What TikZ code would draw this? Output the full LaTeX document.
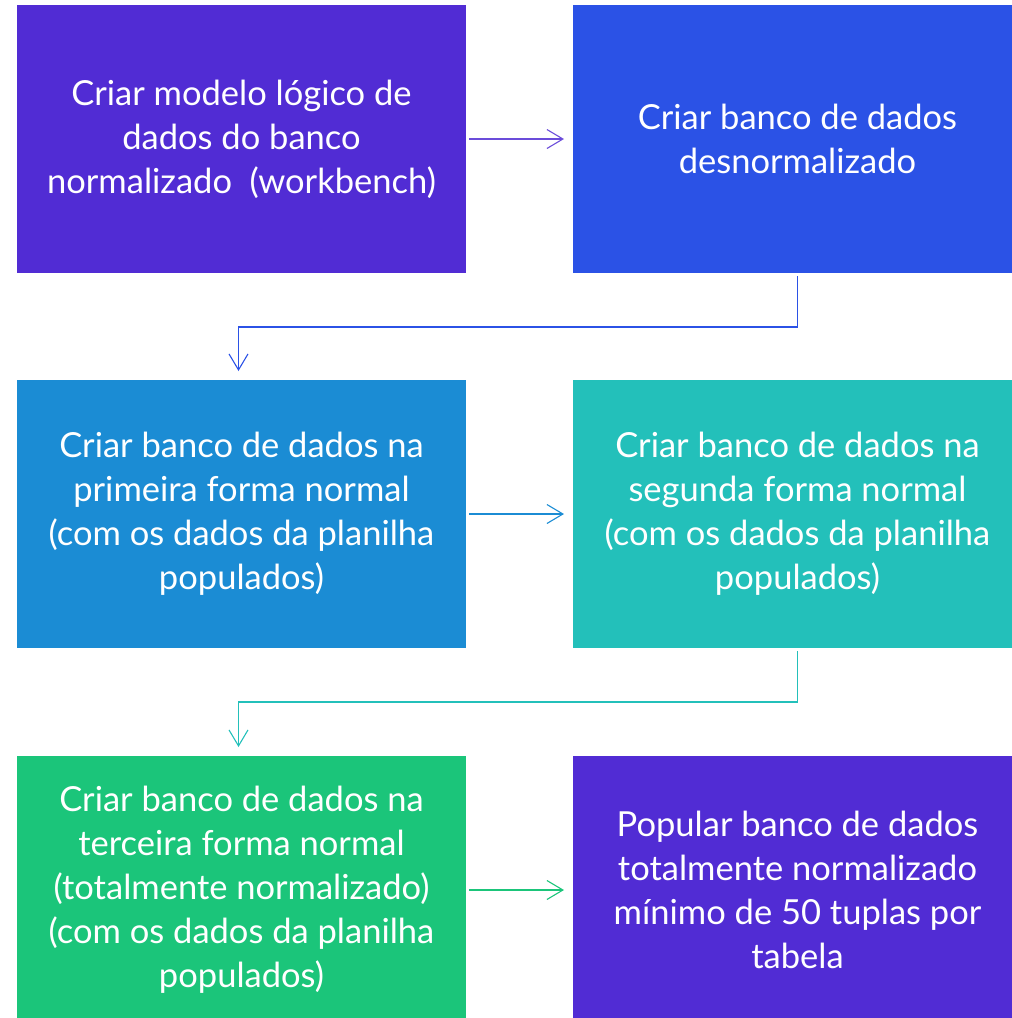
\documentclass[tikz,border=0pt]{standalone}
\usepackage{fontspec}
\setmainfont{Lato}
\usetikzlibrary{arrows.meta}
\definecolor{cA}{RGB}{81,44,212}
\definecolor{cB}{RGB}{43,82,230}
\definecolor{cC}{RGB}{27,140,212}
\definecolor{cD}{RGB}{35,192,186}
\definecolor{cE}{RGB}{27,197,122}
\tikzset{
  box/.style={minimum width=449pt, minimum height=268pt, inner sep=0pt, outer sep=0pt,
    text=white, align=center, font=\fontsize{34.5}{44}\selectfont},
  conn/.style={line width=1.1pt, -{Straight Barb[length=16pt,width=19pt,line width=1.1pt]},
    shorten <=3pt, shorten >=9pt}
}
\begin{document}
\begin{tikzpicture}[x=1pt,y=-1pt]
\useasboundingbox (0,0) rectangle (1012,1018);
\begin{scope}
\clip (0,0) rectangle (1012,1018);
\node[box, fill=cA] (b1) at (241.5,139) {Criar modelo lógico de\\dados do banco\\normalizado\ \ (workbench)};
\node[box, fill=cB] (b2) at (797.5,139) {Criar banco de dados\\desnormalizado};
\node[box, fill=cC] (b3) at (241.5,514) {Criar banco de dados na\\primeira forma normal\\(com os dados da planilha\\populados)};
\node[box, fill=cD] (b4) at (797.5,514) {Criar banco de dados na\\segunda forma normal\\(com os dados da planilha\\populados)};
\node[box, fill=cE] (b5) at (241.5,890) {Criar banco de dados na\\terceira forma normal\\(totalmente normalizado)\\(com os dados da planilha\\populados)};
\node[box, fill=cA] (b6) at (797.5,890) {Popular banco de dados\\totalmente normalizado\\mínimo de 50 tuplas por\\tabela};
\end{scope}
\coordinate (m1) at (0,327);
\coordinate (m2) at (0,702);
\draw[conn, color=cA!85!white] (b1) -- (b2);
\draw[conn, color=cB] (b2.south) -- (b2.south|-m1) -- ([xshift=-3pt]b3.north|-m1) -- ([xshift=-3pt]b3.north);
\draw[conn, color=cC] (b3) -- (b4);
\draw[conn, color=cD] (b4.south) -- (b4.south|-m2) -- ([xshift=-3pt]b5.north|-m2) -- ([xshift=-3pt]b5.north);
\draw[conn, color=cE] (b5) -- (b6);
\end{tikzpicture}
\end{document}
